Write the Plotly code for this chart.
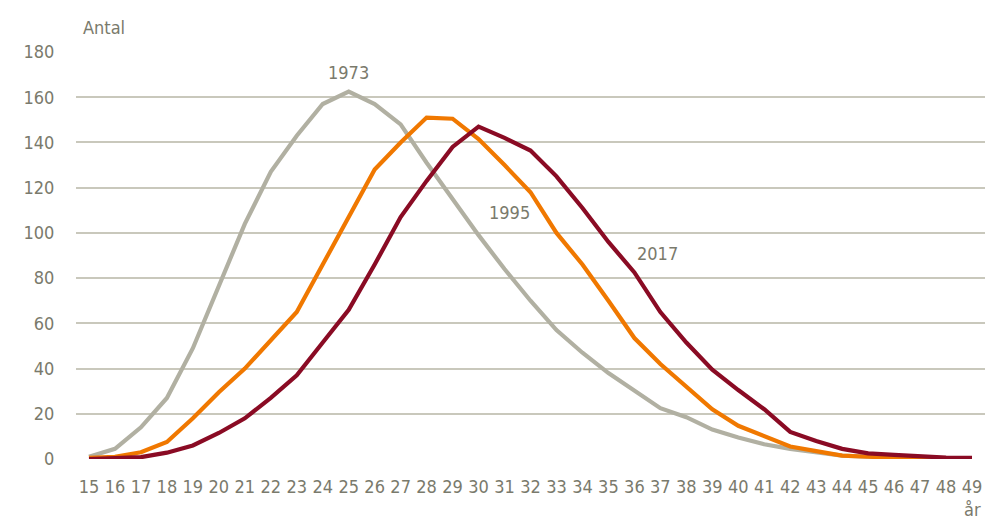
import plotly.graph_objects as go

# ålder (år) och antal per 1000 kvinnor
ages = list(range(15, 50))

y1973 = [1, 4.5, 14, 27, 49, 76, 104, 127, 143, 157, 162.5, 157, 148, 131, 115,
         99, 84, 70, 57, 47, 38, 30.5, 22.5, 18.5, 13, 9.5, 6.5, 4.5, 3, 1.5,
         1, 0.5, 0.3, 0.2, 0.2]
y1995 = [0.5, 1, 3, 7.5, 18, 29.5, 40, 52.5, 65, 86, 107, 128, 140, 151, 150.5,
         141.5, 130, 118, 100, 86, 70, 53.5, 42, 32, 22, 14.7, 10, 5.5, 3.5, 1.5,
         1, 0.5, 0.3, 0.2, 0.2]
y2017 = [0, 0.3, 0.8, 2.8, 6, 11.5, 18, 27, 37, 51.5, 66, 86, 107, 123, 138,
         147, 142, 136.4, 125, 111, 96, 82.5, 65, 51.5, 39.5, 30.5, 22, 12, 8,
         4.5, 2.5, 1.8, 1.2, 0.6, 0.5]

series = [("1973", y1973, "#b1b0a2"), ("1995", y1995, "#f07800"), ("2017", y2017, "#8a0b24")]
labels = [("1973", 25, 171), ("1995", 31.2, 109), ("2017", 36.9, 91)]

font_family = "Liberation Sans Narrow, DejaVu Sans Condensed, Arial Narrow, sans-serif"
txt_color = "#7a7a6c"

fig = go.Figure()
for name, vals, col in series:
    fig.add_trace(go.Scatter(x=ages, y=vals, mode="lines", name=name,
                             line={"color": col, "width": 4.2}, showlegend=False))

for t, xx, yy in labels:
    fig.add_annotation(x=xx, y=yy, text=t, showarrow=False,
                       font={"size": 18, "color": txt_color})

fig.add_annotation(xref="paper", yref="paper", x=0.005, y=1.0, yshift=25,
                   xanchor="left", yanchor="middle", text="Antal", showarrow=False,
                   font={"size": 18, "color": txt_color})
fig.add_annotation(x=49, xref="x", yref="paper", y=0, yshift=-50,
                   yanchor="middle", text="år", showarrow=False,
                   font={"size": 18, "color": txt_color})

fig.update_layout(
    width=994,
    height=519,
    margin={"l": 76, "r": 9, "t": 52, "b": 60},
    paper_bgcolor="white",
    plot_bgcolor="white",
    font={"family": font_family, "size": 18, "color": txt_color},
    xaxis={
        "range": [14.5, 49.5],
        "tickmode": "array",
        "tickvals": ages,
        "ticktext": [str(a) for a in ages],
        "showgrid": False,
        "zeroline": False,
        "showline": False,
        "ticks": "outside",
        "ticklen": 11,
        "tickcolor": "rgba(0,0,0,0)",
    },
    yaxis={
        "range": [0, 180],
        "tickvals": list(range(0, 181, 20)),
        "showgrid": True,
        "gridcolor": "#c9c8bc",
        "gridwidth": 1.5,
        "zeroline": False,
        "showline": False,
        "ticks": "outside",
        "ticklen": 17,
        "tickcolor": "rgba(0,0,0,0)",
    },
)

# sidans egen marginal bort, så att figuren hamnar i hörnet
fig.write_html("out.html", config={"displayModeBar": False},
               post_script="document.body.style.margin='0';")
